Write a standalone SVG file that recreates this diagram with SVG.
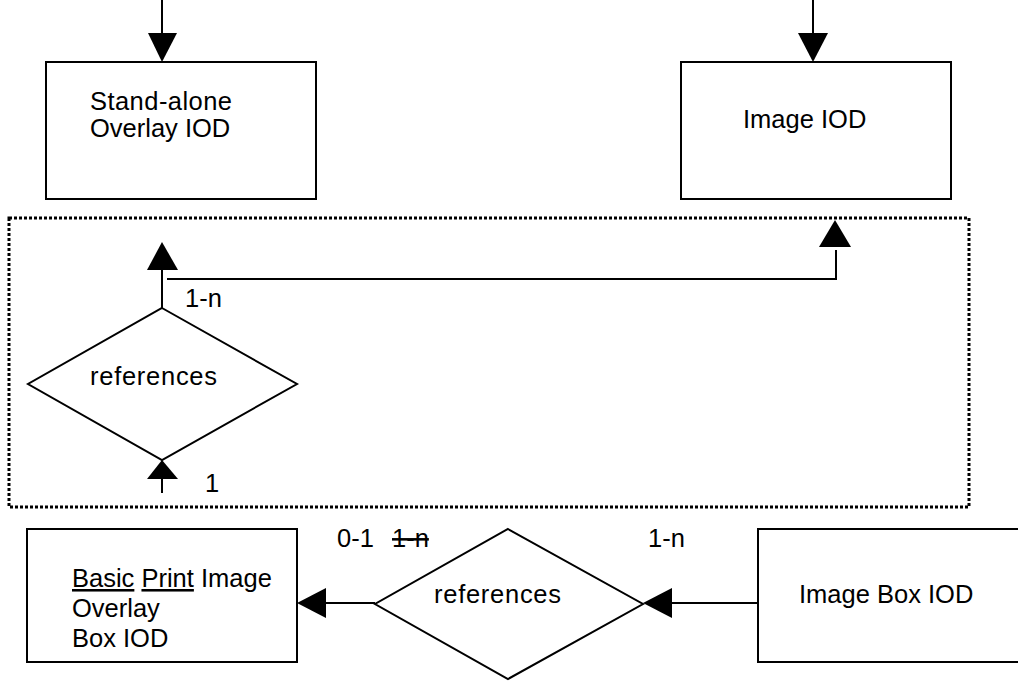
<svg xmlns="http://www.w3.org/2000/svg" width="1018" height="681" viewBox="0 0 1018 681">
<style>
.box{fill:#fff;stroke:#000;stroke-width:2}
.dia{fill:#fff;stroke:#000;stroke-width:2}
.ln{fill:none;stroke:#000;stroke-width:2}
.ah{fill:#000;stroke:none}
.dot{fill:none;stroke:#000;stroke-width:3;stroke-dasharray:3 2}
text{font-family:"Liberation Sans",Arial,sans-serif;font-size:25.5px;fill:#000}
</style>
<rect x="0" y="0" width="1018" height="681" fill="#fff"/>
<g id="group-boundary">
<rect class="dot" x="9" y="218" width="960" height="289"/>
</g>
<g id="connectors">
<line class="ln" x1="162" y1="0" x2="162" y2="40"/>
<polygon class="ah" points="148,33 177,33 162,62"/>
<line class="ln" x1="813" y1="0" x2="813" y2="40"/>
<polygon class="ah" points="798,33 828,33 813,62"/>
<line class="ln" x1="162" y1="308" x2="162" y2="265"/>
<polygon class="ah" points="147,270 178,270 162,242"/>
<polyline class="ln" points="167,279 836,279 836,250"/>
<polygon class="ah" points="819,247 851,247 835,220"/>
<line class="ln" x1="162" y1="493" x2="162" y2="475"/>
<polygon class="ah" points="147,479 178,479 162,460"/>
<line class="ln" x1="375" y1="603" x2="320" y2="603"/>
<polygon class="ah" points="297,603 326,588 326,618"/>
<line class="ln" x1="758" y1="603" x2="668" y2="603"/>
<polygon class="ah" points="643,603 672,588 672,618"/>
</g>
<g id="standalone-overlay-iod">
<rect class="box" x="46" y="62" width="270" height="137"/>
<text x="90" y="110" textLength="142">Stand-alone</text>
<text x="90" y="137">Overlay IOD</text>
</g>
<g id="image-iod">
<rect class="box" x="681" y="62" width="270" height="137"/>
<text x="743" y="128">Image IOD</text>
</g>
<g id="references-top">
<polygon class="dia" points="162,308 297,384 162,460 28,384"/>
<text x="90" y="385" textLength="127">references</text>
</g>
<g id="basic-print-image-overlay-box-iod">
<rect class="box" x="27" y="529" width="270" height="133"/>
<text x="72" y="587"><tspan text-decoration="underline">Basic</tspan> <tspan text-decoration="underline">Print</tspan> Image</text>
<text x="72" y="617">Overlay</text>
<text x="72" y="647">Box IOD</text>
</g>
<g id="references-bottom">
<polygon class="dia" points="508,529 643,604 508,679 375,604"/>
<text x="434" y="603" textLength="127">references</text>
</g>
<g id="image-box-iod">
<rect class="box" x="758" y="529" width="280" height="133"/>
<text x="799" y="603">Image Box IOD</text>
</g>
<g id="labels">
<text x="185" y="307">1-n</text>
<text x="205" y="492">1</text>
<text x="337" y="547">0-1</text>
<text x="392" y="547" text-decoration="line-through">1-n</text>
<text x="648" y="547">1-n</text>
</g>
</svg>
